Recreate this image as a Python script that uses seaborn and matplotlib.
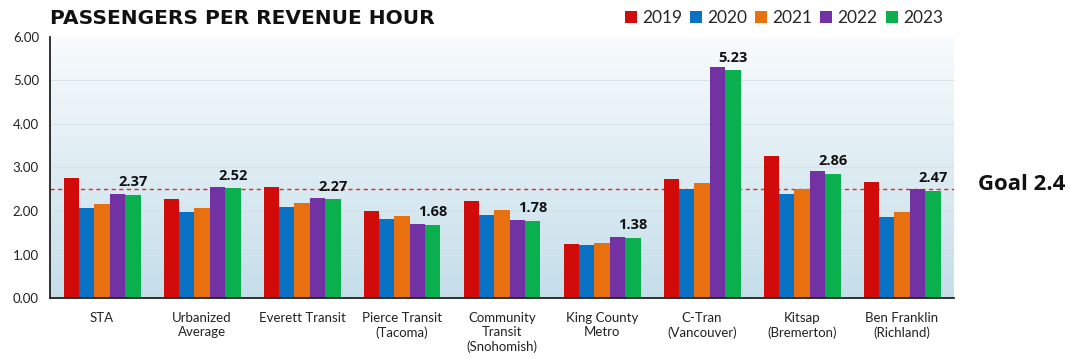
import numpy as np
import pandas as pd
import matplotlib
matplotlib.use("Agg")
import matplotlib.pyplot as plt
import seaborn as sns

categories = ["STA", "Urbanized\nAverage", "Everett Transit", "Pierce Transit\n(Tacoma)",
              "Community\nTransit\n(Snohomish)", "King County\nMetro", "C-Tran\n(Vancouver)",
              "Kitsap\n(Bremerton)", "Ben Franklin\n(Richland)"]
years = ["2019", "2020", "2021", "2022", "2023"]
v2019 = [2.75, 2.27, 2.56, 2.00, 2.22, 1.24, 2.73, 3.27, 2.67]
v2020 = [2.07, 1.97, 2.09, 1.82, 1.91, 1.21, 2.50, 2.38, 1.87]
v2021 = [2.16, 2.07, 2.18, 1.88, 2.02, 1.27, 2.65, 2.50, 1.97]
v2022 = [2.40, 2.55, 2.30, 1.70, 1.80, 1.41, 5.31, 2.91, 2.50]
v2023 = [2.37, 2.52, 2.27, 1.68, 1.78, 1.38, 5.23, 2.86, 2.47]
goal_line = 2.5
goal_text = "Goal 2.4"
title = "PASSENGERS PER REVENUE HOUR"
colors = ["#D10A0A", "#0A72C4", "#E8700E", "#7332A3", "#0AAF4E"]

rows = []
for y, vals in zip(years, [v2019, v2020, v2021, v2022, v2023]):
    for c, v in zip(categories, vals):
        rows.append({"cat": c, "year": y, "value": v})
df = pd.DataFrame(rows)

sns.set_theme(style="white")
plt.rcParams['font.family'] = ['Lato', 'DejaVu Sans']

fig = plt.figure(figsize=(10.7, 3.58), dpi=100)
ax = fig.add_axes([50/1070, 1 - 298/358, (954-50)/1070, (298-37)/358])

# gradient background
grad = np.linspace(0, 1, 256).reshape(-1, 1)
top = np.array([0.975, 0.985, 0.99])
bot = np.array([0.77, 0.87, 0.915])
img = top[None, None, :] * (1 - grad[..., None]) + bot[None, None, :] * grad[..., None]
ax.imshow(img, extent=[0, 1, 0, 1], transform=ax.transAxes, aspect="auto", zorder=0)

for g in [1, 2, 3, 4, 5]:
    ax.axhline(g, color="#d6e4ea", lw=0.8, zorder=0.5)

sns.barplot(data=df, x="cat", y="value", hue="year", palette=colors, width=0.77,
            gap=0, ax=ax, zorder=2, legend=True, saturation=1,
            edgecolor="none", linewidth=0)

ax.axhline(goal_line, color="#ee2222", lw=1.0, ls=(0, (3, 2.5)), zorder=1.5)

# label 2023 bars
last = ax.containers[-1]
ax.bar_label(last, labels=[f"{v:.2f}" for v in v2023], padding=4,
             fontsize=10.5, fontweight="bold", color="#111111",
             family=["Open Sans", "DejaVu Sans"])

ax.set_ylim(0, 6)
ax.set_xlim(-0.52, len(categories) - 0.48)
ax.set_yticks(np.arange(0, 7, 1))
ax.set_yticklabels([f"{t:.2f}" for t in np.arange(0, 7, 1)], fontsize=9.5, color="#222222")
ax.tick_params(axis="x", labelsize=9.5, colors="#222222", length=0, pad=10)
ax.tick_params(axis="y", length=0, pad=8)
ax.set_xlabel("")
ax.set_ylabel("")
for s in ["top", "right"]:
    ax.spines[s].set_visible(False)
for s in ["left", "bottom"]:
    ax.spines[s].set_color("#222222")
    ax.spines[s].set_linewidth(1.3)
    ax.spines[s].set_zorder(5)

handles, labels = ax.get_legend_handles_labels()
ax.get_legend().remove()
fig.legend(handles, labels, loc="center right", bbox_to_anchor=(943/1070, 1 - 18/358),
           ncol=5, frameon=False, fontsize=12.5, handlelength=0.7, handleheight=0.7,
           handletextpad=0.3, columnspacing=0.45, borderaxespad=0, borderpad=0)

fig.text(50/1070, 1 - 18/358, title, fontsize=14.5, fontweight="bold",
         va="center", ha="left", color="#111111", family=["DejaVu Sans"])
fig.text(978/1070, 1 - 184/358, goal_text, fontsize=16, fontweight="bold",
         va="center", ha="left", color="#111111", family=["Open Sans", "DejaVu Sans"])

fig.savefig("out.png", dpi=100)
